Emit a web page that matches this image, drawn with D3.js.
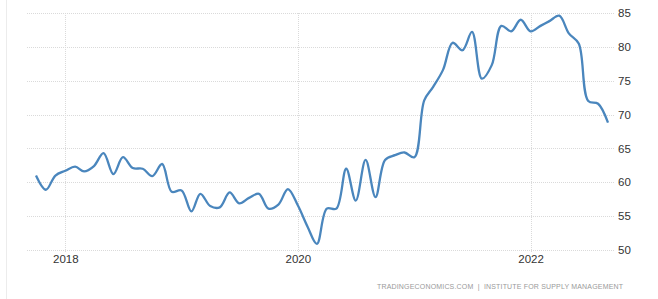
<!DOCTYPE html>
<html>
<head>
<meta charset="utf-8">
<script src="https://cdn.jsdelivr.net/npm/d3@7"></script>
<style>
  body { margin: 0; background: #fff; }
  .chart text { font-family: "Liberation Sans", Arial, sans-serif; }
</style>
</head>
<body>
<svg class="chart"></svg>
<script>
// monthly values, Oct 2017 .. Sep 2022
var startMonth = "2017-10";
var values = [
  61.0, 58.9, 61.0, 61.7, 62.3, 61.6, 62.4, 64.3, 61.2, 63.7, 62.1, 62.0,   // Oct17 - Sep18
  60.9, 62.7, 58.6, 58.8, 55.7, 58.3, 56.5, 56.3, 58.5, 56.9, 57.7, 58.3,   // Oct18 - Sep19
  56.1, 56.7, 59.0, 56.6, 53.4, 50.9, 56.1, 56.1, 62.0, 57.3, 63.3, 57.8,   // Oct19 - Sep20
  63.3, 64.0, 64.4, 63.7, 72.1, 74.1, 76.6, 80.6, 79.5, 82.2, 75.3, 77.3,   // Oct20 - Sep21
  83.1, 82.3, 84.0, 82.3, 83.1, 83.8, 84.6, 82.0, 80.5, 72.0, 71.6, 68.8    // Oct21 - Sep22
];
var yTicks = [50, 55, 60, 65, 70, 75, 80, 85];
var xTicks = ["2018-01", "2020-01", "2022-01"];
var sourceText = "TRADINGECONOMICS.COM  |  INSTITUTE FOR SUPPLY MANAGEMENT";

var width = 658, height = 299;
var margin = {top: 13, right: 50, bottom: 49, left: 27};

var parseMonth = d3.timeParse("%Y-%m");
var t0 = parseMonth(startMonth);
var data = values.map(function(v, i) {
  return {date: d3.timeMonth.offset(t0, i), value: v};
});

var svg = d3.select(".chart")
  .attr("width", width)
  .attr("height", height);

// left frame line
svg.append("line")
  .attr("x1", 6.5).attr("x2", 6.5)
  .attr("y1", 0).attr("y2", height)
  .attr("stroke", "#ececec");

var x = d3.scaleTime()
  .domain([data[0].date, data[data.length - 1].date])
  .range([36, 608]);

var y = d3.scaleLinear()
  .domain([50, 85])
  .range([250, margin.top]);

// horizontal grid
svg.append("g")
  .selectAll("line")
  .data(yTicks)
  .enter().append("line")
    .attr("x1", margin.left)
    .attr("x2", 614)
    .attr("y1", function(d) { return Math.round(y(d)) + 0.5; })
    .attr("y2", function(d) { return Math.round(y(d)) + 0.5; })
    .attr("stroke", "#dadada")
    .attr("stroke-dasharray", "1,1");

// vertical grid
svg.append("g")
  .selectAll("line")
  .data(xTicks)
  .enter().append("line")
    .attr("x1", function(d) { return Math.round(x(parseMonth(d))) + 0.5; })
    .attr("x2", function(d) { return Math.round(x(parseMonth(d))) + 0.5; })
    .attr("y1", margin.top)
    .attr("y2", 252)
    .attr("stroke", "#dadada")
    .attr("stroke-dasharray", "1,1");

// Y AXIS LABELS (right side)
var yAxis = d3.axisRight(y).tickValues(yTicks).tickSize(0).tickPadding(0);
svg.append("g")
  .attr("transform", "translate(618,0)")
  .call(yAxis)
  .call(function(g) { g.select(".domain").remove(); })
  .selectAll("text")
    .attr("fill", "#333")
    .style("font-size", "11.5px")
    .style("font-family", "'Liberation Sans', Arial, sans-serif");

// X AXIS LABELS
var xAxis = d3.axisBottom(x)
  .tickValues(xTicks.map(parseMonth))
  .tickFormat(d3.timeFormat("%Y"))
  .tickSize(0).tickPadding(0);
svg.append("g")
  .attr("transform", "translate(0,255)")
  .call(xAxis)
  .call(function(g) { g.select(".domain").remove(); })
  .selectAll("text")
    .attr("fill", "#333")
    .style("font-size", "11.5px")
    .style("font-family", "'Liberation Sans', Arial, sans-serif");

// LINE
var line = d3.line()
  .x(function(d) { return x(d.date); })
  .y(function(d) { return y(d.value); })
  .curve(d3.curveCatmullRom.alpha(0.5));

svg.append("path")
  .datum(data)
  .attr("fill", "none")
  .attr("stroke", "#4a86bd")
  .attr("stroke-width", 2.3)
  .attr("stroke-linejoin", "round")
  .attr("d", line);

// SOURCE
svg.append("text")
  .attr("x", 377)
  .attr("y", 289)
  .attr("textLength", 246)
  .attr("lengthAdjust", "spacing")
  .attr("fill", "#9a9a9a")
  .style("font-size", "7px")
  .style("white-space", "pre")
  .text(sourceText);
</script>
</body>
</html>
